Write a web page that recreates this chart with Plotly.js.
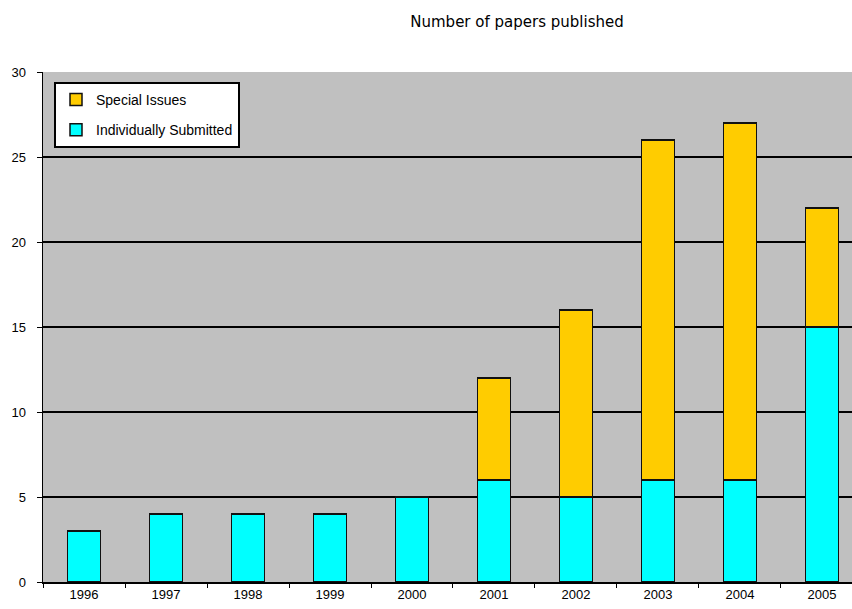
<!DOCTYPE html>
<html><head><meta charset="utf-8">
<script src="https://cdn.plot.ly/plotly-3.0.1.min.js"></script>
<style>html,body{margin:0;padding:0;background:#fff}</style>
</head><body>
<div id="chart" style="width:852px;height:609px"></div>
<script>
const years = ['1996','1997','1998','1999','2000','2001','2002','2003','2004','2005'];
const individuallySubmitted = [3,4,4,4,5,6,5,6,6,15];
const specialIssues = [0,0,0,0,0,6,11,20,21,7];
const yTicks = [0,5,10,15,20,25,30];

const traces = [
  {type:'bar', x:years, y:individuallySubmitted, name:'Individually Submitted', legendrank:2, legendgroup:'ind',
   marker:{color:'#00FFFF', line:{color:'#111', width:1.5}}, width:0.4},
  {type:'bar', x:years, y:specialIssues, name:'Special Issues', legendrank:1, legendgroup:'spe',
   marker:{color:'#FFCC00', line:{color:'#111', width:1.5}}, width:0.4}
];
const layout = {
  width:852, height:609,
  margin:{l:43, r:0, t:72, b:27},
  paper_bgcolor:'#fff', plot_bgcolor:'#C0C0C0',
  barmode:'stack',
  font:{family:'Liberation Sans, Arial, sans-serif', size:13, color:'#000'},
  title:{text:'Number of papers published', x:517/852, xanchor:'center', y:1-22/609, yanchor:'middle',
    font:{size:15, family:'DejaVu Sans, sans-serif'}},
  xaxis:{type:'category', range:[-0.5, 9.366], showline:true, linecolor:'#000', linewidth:1.5,
    ticks:'outside', tickson:'boundaries', ticklen:4, tickcolor:'#000', showgrid:false,
    tickfont:{size:13}},
  yaxis:{range:[0,30], tickvals:yTicks, showline:true, linecolor:'#000', linewidth:1.5,
    ticks:'outside', ticklen:5, tickcolor:'#000', showgrid:true, gridcolor:'#000', gridwidth:1.2,
    zeroline:false, ticklabelstandoff:8, tickfont:{size:13}},
  showlegend:true,
  legend:{x:(54-43)/809, y:(582-82)/510, xanchor:'left', yanchor:'top', bgcolor:'#fff',
    bordercolor:'#000', borderwidth:2, traceorder:'grouped', tracegroupgap:9,
    font:{size:14}, itemwidth:30}
};
Plotly.newPlot('chart', traces, layout, {displayModeBar:false, staticPlot:true});
</script>
</body></html>
